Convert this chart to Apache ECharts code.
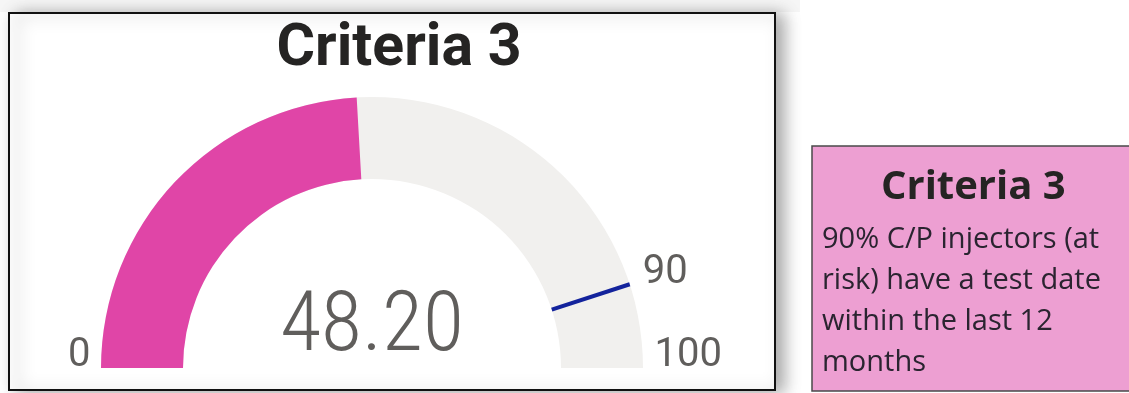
<!DOCTYPE html>
<html>
<head>
<meta charset="utf-8">
<script src="https://cdn.jsdelivr.net/npm/echarts@6/dist/echarts.min.js"></script>
<style>
html,body{margin:0;padding:0;background:#ffffff;}
#chart{width:1129px;height:393px;}
</style>
</head>
<body>
<div id="chart"></div>
<script>
// ---- data ----
const gaugeTitle = 'Criteria 3';
const gaugeValue = [48.2];
const targetValue = [90];
const axisMin = 0;
const axisMax = 100;
const noteTitle = 'Criteria 3';
const noteLines = ['90% C/P injectors (at', 'risk) have a test date', 'within the last 12', 'months'];

// ---- styles ----
const PINK = '#E045A7';
const TRACK = '#F1F0EE';
const NAVY = '#13239C';
const NUM = '#605E5C';
const numFont = "Roboto, sans-serif";
const bigFont = "'Roboto Condensed', 'Noto Sans Condensed', Roboto, sans-serif";

const cx = 372, cy = 368, R = 271, band = 82;

const chart = echarts.init(document.getElementById('chart'), null, {renderer: 'canvas'});

chart.setOption({
  animation: false,
  backgroundColor: '#ffffff',
  title: {
    text: gaugeTitle,
    left: 394,
    top: 16,
    textAlign: 'center',
    textStyle: {fontFamily: 'Roboto', fontWeight: 'bold', fontSize: 59, color: '#252423'}
  },
  graphic: [
    {type: 'rect', z: -10, shape: {x: 0, y: 0, width: 800, height: 12}, style: {fill: '#f6f6f6'}},
    {type: 'rect', z: -5, shape: {x: 9, y: 13, width: 766, height: 377},
     style: {fill: '#ffffff', stroke: '#111', lineWidth: 2, shadowBlur: 16, shadowOffsetX: 8, shadowOffsetY: 2, shadowColor: 'rgba(0,0,0,0.35)'}},
    {type: 'rect', z: -5, shape: {x: 812, y: 146, width: 330, height: 245},
     style: {fill: '#ED9FD2', stroke: '#4a4a4a', lineWidth: 1.5}},
    {type: 'text', z: 5, left: 975 - 94, top: 168,
     style: {text: noteTitle, fontFamily: "'Open Sans'", fontWeight: 'bold', fontSize: 40, fill: '#252423'}},
    {type: 'text', z: 5, left: 822, top: 219,
     style: {text: noteLines.join('\n'), fontFamily: "'Open Sans'", fontSize: 29, lineHeight: 41, fill: '#2a2430'}}
  ],
  series: [
    {
      type: 'gauge',
      center: [cx, cy],
      radius: R,
      startAngle: 180,
      endAngle: 0,
      min: axisMin,
      max: axisMax,
      splitNumber: 1,
      axisLine: {lineStyle: {width: band, color: [[1, TRACK]]}},
      progress: {show: true, width: band, roundCap: false, itemStyle: {color: PINK}},
      pointer: {show: false},
      anchor: {show: false},
      axisTick: {show: false},
      splitLine: {show: false, length: 0, distance: 0},
      axisLabel: {
        show: true,
        distance: -79,
        color: NUM,
        fontFamily: numFont,
        fontSize: 40,
        formatter: function (v) { return v === axisMin ? '{a|' + v + '}' : '{b|' + v + '}'; },
        rich: {
          a: {fontFamily: numFont, fontSize: 40, color: NUM, padding: [0, 0, 24, 46]},
          b: {fontFamily: numFont, fontSize: 40, color: NUM, padding: [0, 0, 24, 0]}
        }
      },
      title: {show: false},
      detail: {
        show: true,
        offsetCenter: [0, -39],
        fontFamily: bigFont,
        fontSize: 84,
        fontWeight: 300,
        color: NUM,
        formatter: function (v) { return v.toFixed(2); }
      },
      data: [{value: gaugeValue[0]}]
    },
    {
      type: 'gauge',
      center: [cx, cy],
      radius: R,
      startAngle: 180,
      endAngle: 0,
      min: axisMin,
      max: axisMax,
      splitNumber: 10,
      axisLine: {show: false},
      progress: {show: false},
      axisTick: {show: false},
      splitLine: {show: false, length: 0, distance: 0},
      axisLabel: {
        show: true,
        distance: -61,
        color: NUM,
        fontFamily: numFont,
        fontSize: 40,
        formatter: function (v) { return v === targetValue[0] ? '{t|' + v + '}' : ''; },
        rich: {t: {fontFamily: numFont, fontSize: 40, color: NUM, padding: [16, 0, 0, 0]}}
      },
      pointer: {show: true, icon: 'rect', length: band, width: 4, offsetCenter: [0, -(R - band)], itemStyle: {color: NAVY}},
      anchor: {show: false},
      title: {show: false},
      detail: {show: false},
      data: [{value: targetValue[0]}]
    }
  ]
});
</script>
</body>
</html>
